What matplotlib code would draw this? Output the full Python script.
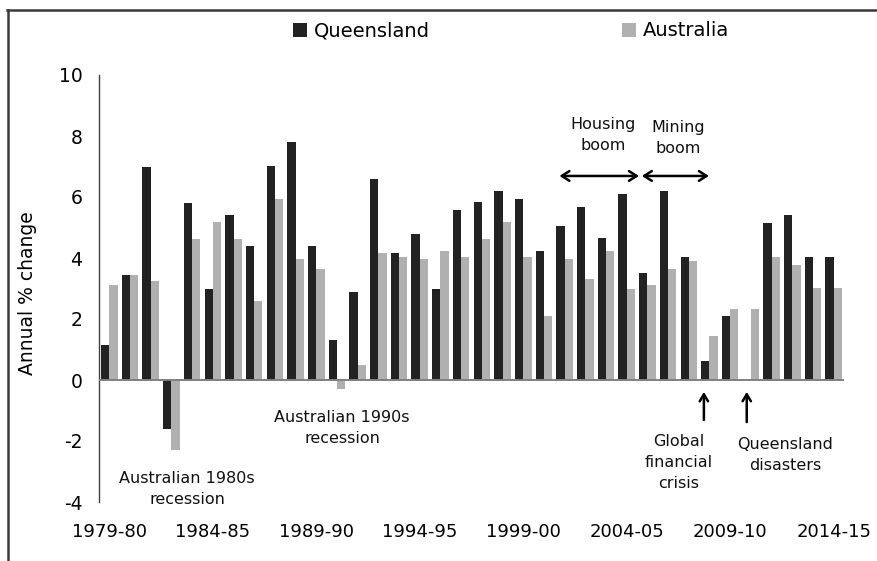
import matplotlib
matplotlib.use("Agg")
import matplotlib.pyplot as plt
from matplotlib.lines import Line2D
import numpy as np

plt.rcParams['font.family'] = ['DejaVu Sans']

years = ["1979-80", "1980-81", "1981-82", "1982-83", "1983-84", "1984-85", "1985-86",
         "1986-87", "1987-88", "1988-89", "1989-90", "1990-91", "1991-92", "1992-93",
         "1993-94", "1994-95", "1995-96", "1996-97", "1997-98", "1998-99", "1999-00",
         "2000-01", "2001-02", "2002-03", "2003-04", "2004-05", "2005-06", "2006-07",
         "2007-08", "2008-09", "2009-10", "2010-11", "2011-12", "2012-13", "2013-14",
         "2014-15"]
queensland = [1.15, 3.44, 6.98, -1.61, 5.80, 2.98, 5.41, 4.39, 7.02, 7.80, 4.39, 1.31,
              2.89, 6.59, 4.16, 4.79, 2.98, 5.57, 5.84, 6.20, 5.93, 4.23, 5.05, 5.67,
              4.66, 6.10, 3.51, 6.20, 4.03, 0.62, 2.10, 0.0, 5.15, 5.41, 4.03, 4.03]
australia = [3.11, 3.44, 3.25, -2.30, 4.62, 5.18, 4.62, 2.59, 5.93, 3.97, 3.64, -0.30,
             0.49, 4.16, 4.03, 3.97, 4.23, 4.03, 4.62, 5.18, 4.03, 2.10, 3.97, 3.31,
             4.23, 2.98, 3.11, 3.64, 3.90, 1.44, 2.33, 2.33, 4.03, 3.77, 3.02, 3.02]
yticks = [-4, -2, 0, 2, 4, 6, 8, 10]
label_step = 5

W, H = 877, 561
fig = plt.figure(figsize=(W / 100, H / 100), dpi=100)
ax = fig.add_axes([99 / W, 1 - 502 / H, 745 / W, 427 / H])

x = np.arange(len(years))
bw = 0.4
b1 = ax.bar(x - bw / 2, queensland, width=bw, color="#222222", label="Queensland", zorder=2)
b2 = ax.bar(x + bw / 2, australia, width=bw, color="#b0b0b0", label="Australia", zorder=2)
ax.axhline(0, color="#808080", lw=1.4, zorder=3)

ax.set_xlim(-0.5, len(years) - 0.5)
ax.set_ylim(-4, 10)
ax.set_yticks(yticks)
ax.set_yticklabels([str(v) for v in yticks])
ax.set_xticks(x[::label_step])
ax.set_xticklabels(years[::label_step])
ax.tick_params(axis="y", length=0, pad=12, labelsize=13.5)
ax.tick_params(axis="x", length=0, pad=15, labelsize=13)

for s in ["top", "right", "bottom"]:
    ax.spines[s].set_visible(False)
ax.spines["left"].set_color("#404040")
ax.spines["left"].set_linewidth(1.0)

ax.set_ylabel("Annual % change", fontsize=13.5)
ax.yaxis.set_label_coords(-0.083, 0.49)

leg = fig.legend(handles=[b1, b2], loc="center", bbox_to_anchor=(0.583, 1 - 31 / H),
                 ncol=2, frameon=False, fontsize=14, handlelength=0.7, handleheight=0.7,
                 handletextpad=0.35, columnspacing=9.9, borderaxespad=0)

txt_kw = dict(ha="center", va="center", fontsize=11.5, linespacing=1.5, color="#111111")
ax.text(23.85, 8.02, "Housing\nboom", **txt_kw)
ax.text(27.47, 7.93, "Mining\nboom", **txt_kw)
ax.text(3.75, -3.56, "Australian 1980s\nrecession", **txt_kw)
ax.text(11.24, -1.57, "Australian 1990s\nrecession", **txt_kw)
ax.text(27.52, -2.69, "Global\nfinancial\ncrisis", **txt_kw)
ax.text(32.64, -2.46, "Queensland\ndisasters", **txt_kw)

arr = dict(arrowstyle="<->,head_length=0.55,head_width=0.35", color="black", lw=1.8,
           shrinkA=0, shrinkB=0)
ax.annotate("", xy=(21.75, 6.69), xytext=(25.59, 6.69), arrowprops=arr)
ax.annotate("", xy=(25.73, 6.69), xytext=(28.97, 6.69), arrowprops=arr)
up = dict(arrowstyle="->,head_length=0.5,head_width=0.3", color="black", lw=1.8,
          shrinkA=0, shrinkB=0)
ax.annotate("", xy=(28.73, -0.39), xytext=(28.73, -1.31), arrowprops=up)
ax.annotate("", xy=(30.80, -0.39), xytext=(30.80, -1.38), arrowprops=up)

fig.add_artist(Line2D([7 / W, 1], [1 - 10 / H, 1 - 10 / H], transform=fig.transFigure,
                      color="#3a3a3a", lw=1.8))
fig.add_artist(Line2D([7.5 / W, 7.5 / W], [0, 1 - 10 / H], transform=fig.transFigure,
                      color="#3a3a3a", lw=1.8))

fig.savefig("out.png", dpi=100)
